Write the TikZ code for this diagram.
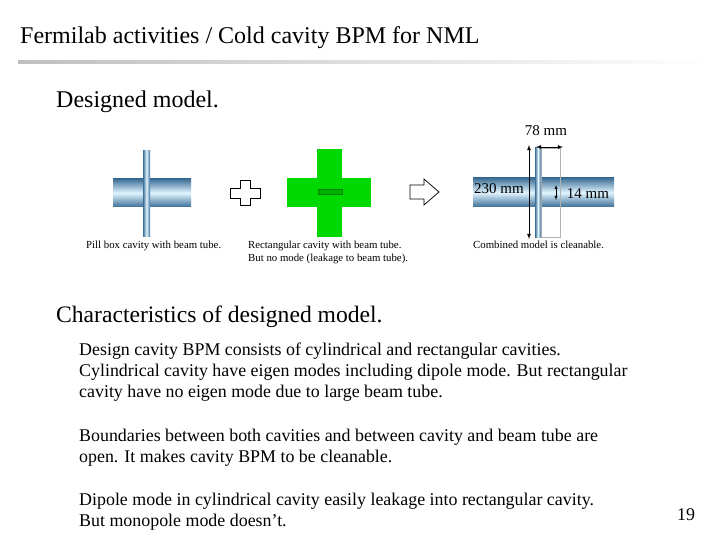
\documentclass[tikz,border=0pt]{standalone}
\usepackage{fontspec}
\setmainfont{Liberation Serif}
\usetikzlibrary{arrows.meta}
\tikzset{>=latex}
\definecolor{steel}{RGB}{60,110,150}
\definecolor{pale}{RGB}{225,245,255}
\tikzset{
  tube/.style = {top color=steel, bottom color=steel, middle color=pale, draw=none},
  disk/.style = {left color=steel, right color=steel, middle color=pale, draw=none},
  green box/.style = {fill=green!85!black, draw=none},
  caption/.style = {font=\fontsize{10.8}{13}\selectfont, align=left, anchor=north west, inner sep=0pt},
  body/.style = {font=\fontsize{17.9}{21}\selectfont, align=left, anchor=north west, inner sep=0pt},
  dim/.style = {thick, <->},
  outline sym/.style = {draw=black, fill=white, line width=0.7pt}
}
\begin{document}
\begin{tikzpicture}[x=1pt,y=-1pt]
\useasboundingbox (0,0) rectangle (720,540);

% header
\node (title) [anchor=west, inner sep=0pt, font=\fontsize{24}{28}\selectfont] at (20,38) {Fermilab activities / Cold cavity BPM for NML};
\shade[left color=gray!50, right color=white] (18,61) rectangle (712,64);

\node (h1) [body, font=\fontsize{24}{28}\selectfont] at (56,91) {Designed model.};

% pill box cavity
\shade[tube] (113,179) rectangle (191,207);
\shade[disk] (143,151) rectangle (150,236);
\node (cap1) [caption] at (86,241) {Pill box cavity with beam tube.};

% plus sign
\draw[outline sym] (240,180) -- (250,180) -- (250,188) -- (260,188) -- (260,198) -- (250,198)
  -- (250,205) -- (240,205) -- (240,198) -- (230,198) -- (230,188) -- (240,188) -- cycle;

% rectangular cavity
\fill[green box] (287,178) rectangle (371,207);
\fill[green box] (317,149) rectangle (342,237);
\draw[green!50!black, fill=green!70!black] (318,189) rectangle (342,194);
\node (cap2) [caption] at (248,241) {Rectangular cavity with beam tube.\\But no mode (leakage to beam tube).};

% arrow
\draw[outline sym] (410,185) -- (424,185) -- (424,179) -- (439,192) -- (424,205) -- (424,199) -- (410,199) -- cycle;

% combined model
\shade[tube] (473,178) rectangle (614,207);
\draw[gray!60] (541,148) rectangle (560,237);
\shade[disk] (535,148) rectangle (541,237);
\coordinate (vt) at (529,145);
\coordinate (vb) at (529,239);
\draw[dim] (vt) -- (vb);
\coordinate (ha) at (536,147);
\coordinate (hb) at (563,147);
\draw[dim] (ha) -- (hb);
\coordinate (st) at (556,185);
\coordinate (sb) at (556,200);
\draw[dim, thin] (st) -- (sb);
\node (l78) [font=\fontsize{15}{17}\selectfont] at (546,131) {78 mm};
\node (l230) [font=\fontsize{15}{17}\selectfont] at (499,189) {230 mm};
\node (l14) [font=\fontsize{15}{17}\selectfont] at (588,194) {14 mm};
\node (cap3) [caption] at (473,241) {Combined model is cleanable.};

% characteristics
\node (h2) [body, font=\fontsize{23.6}{28}\selectfont] at (56,306) {Characteristics of designed model.};
\node (p1) [body] at (79,343) {Design cavity BPM consists of cylindrical and rectangular cavities.\\Cylindrical cavity have eigen modes including dipole mode. But rectangular\\cavity have no eigen mode due to large beam tube.};
\node (p2) [body] at (79,429) {Boundaries between both cavities and between cavity and beam tube are\\open. It makes cavity BPM to be cleanable.};
\node (p3) [body] at (79,493) {Dipole mode in cylindrical cavity easily leakage into rectangular cavity.\\But monopole mode doesn’t.};
\node (pg) [font=\fontsize{17.9}{21}\selectfont] at (686,515) {19};
\end{tikzpicture}
\end{document}
